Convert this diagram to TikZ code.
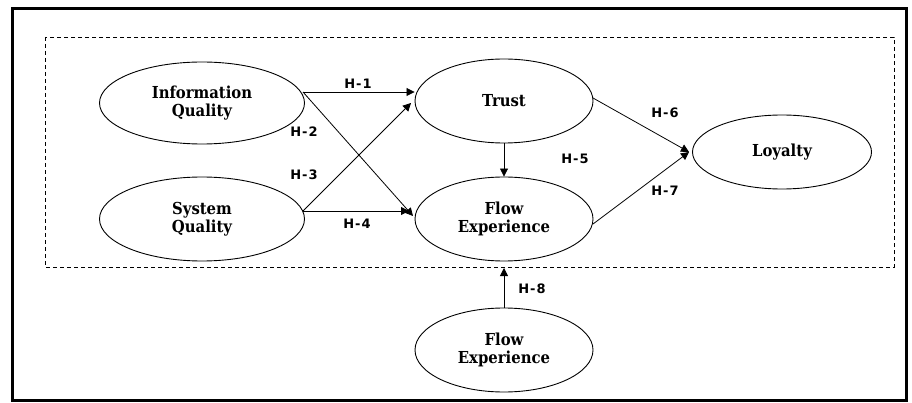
\documentclass[tikz,border=0pt]{standalone}
\usepackage{fontspec}
\setmainfont{DejaVu Serif Condensed}
\newfontfamily\hfont{DejaVu Sans}
\usetikzlibrary{arrows.meta,shapes.geometric}
\tikzset{
  construct/.style={draw, line width=0.9pt, ellipse, inner sep=0pt,
    font=\fontsize{16.5}{17.5}\selectfont\bfseries, align=center},
  hyp/.style={font=\hfont\bfseries\fontsize{13}{14}\selectfont\addfontfeature{LetterSpace=8}},
  link/.style={line width=0.8pt, -{Triangle[length=8pt,width=8pt]}},
  plain/.style={line width=0.8pt}
}
\begin{document}
\begin{tikzpicture}[x=1pt,y=-1pt]
\useasboundingbox (0,0) rectangle (912,403);
\draw[line width=3pt] (12,9) rectangle (906,400);
\draw[line width=0.8pt, dash pattern=on 4pt off 3pt] (45,37) rectangle (894,267);

\node[construct, minimum width=205pt, minimum height=82pt] (iq) at (202,103) {Information\\Quality};
\node[construct, minimum width=205pt, minimum height=84pt] (sq) at (202,219) {System\\Quality};
\node[construct, minimum width=178pt, minimum height=84pt] (tr) at (504,101) {Trust};
\node[construct, minimum width=178pt, minimum height=84pt] (fe) at (504,219) {Flow\\Experience};
\node[construct, minimum width=179pt, minimum height=74pt] (lo) at (782,152) {Loyalty};
\node[construct, minimum width=178pt, minimum height=84pt] (fe2) at (504,350) {Flow\\Experience};

\coordinate (iqo) at (303,92);
\coordinate (sqo) at (303,211);
\coordinate (join) at (689,152);
\coordinate (dash8) at (504,268);
\coordinate (t6) at (593,98);
\coordinate (f7) at (593,224);

\draw[link] (iqo) -- (tr.west |- iqo);
\draw[link] (iqo) -- (413,216);
\draw[link] (sqo) -- (411,103);
\draw[link] (sqo) -- (409,211);
\draw[link] (tr.south) -- (fe.north);
\draw[link] (t6) -- (join);
\draw[link] (f7) -- (join);
\draw[link] (fe2.north) -- (dash8);

\node[hyp] (h1) at (358,84) {H-1};
\node[hyp] (h2) at (304,132) {H-2};
\node[hyp] (h3) at (304,175) {H-3};
\node[hyp] (h4) at (357,224) {H-4};
\node[hyp] (h5) at (575,159) {H-5};
\node[hyp] (h6) at (665,113) {H-6};
\node[hyp] (h7) at (665,191) {H-7};
\node[hyp] (h8) at (532,289) {H-8};
\end{tikzpicture}
\end{document}
